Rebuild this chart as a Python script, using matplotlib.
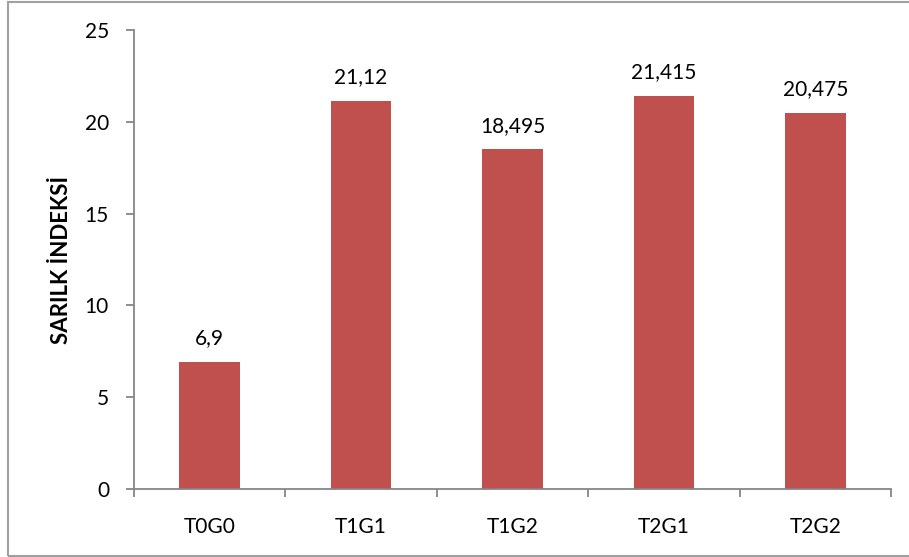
import numpy as np
import matplotlib.pyplot as plt
from matplotlib.patches import Rectangle

groups = ["T0G0", "T1G1", "T1G2", "T2G1", "T2G2"]
sarilik = [6.9, 21.12, 18.495, 21.415, 20.475]
value_text = ["6,9", "21,12", "18,495", "21,415", "20,475"]

plt.rcParams['font.family'] = ['Lato', 'DejaVu Sans']
axis_grey = "#868686"
fs = 15

fig = plt.figure(figsize=(9.09, 5.57), dpi=100)
ax = fig.add_axes([134/909, 68/557, 757/909, 459/557])

xs = np.arange(len(groups))
bars = ax.bar(xs, sarilik, width=0.4, color="#C0504D")
for x, v, t in zip(xs, sarilik, value_text):
    ax.text(x, v + 0.75, t, ha="center", va="bottom", fontsize=fs)

ax.set_xlim(-0.5, len(groups) - 0.5)
ax.set_ylim(0, 25)
ax.set_yticks(range(0, 26, 5))
ax.set_xticks(xs)
ax.set_xticklabels(groups)
ax.set_xticks(np.arange(-0.5, len(groups)), minor=True)
ax.tick_params(axis="x", which="major", length=0, pad=20, labelsize=fs)
ax.tick_params(axis="x", which="minor", length=6, color=axis_grey, width=1.3)
ax.tick_params(axis="y", length=6, color=axis_grey, width=1.3, pad=12, labelsize=fs)

for s in ["top", "right"]:
    ax.spines[s].set_visible(False)
for s in ["left", "bottom"]:
    ax.spines[s].set_color(axis_grey)
    ax.spines[s].set_linewidth(1.3)

ax.set_ylabel("SARILK İNDEKSİ", fontsize=16, fontweight="bold", labelpad=9)

# chart area frame
fig.patches.append(Rectangle((8/909, 1/557), 1.2, 554/557, transform=fig.transFigure,
                             fill=False, edgecolor="#A0A0A0", linewidth=1.5))

plt.savefig("out.png", dpi=100)
